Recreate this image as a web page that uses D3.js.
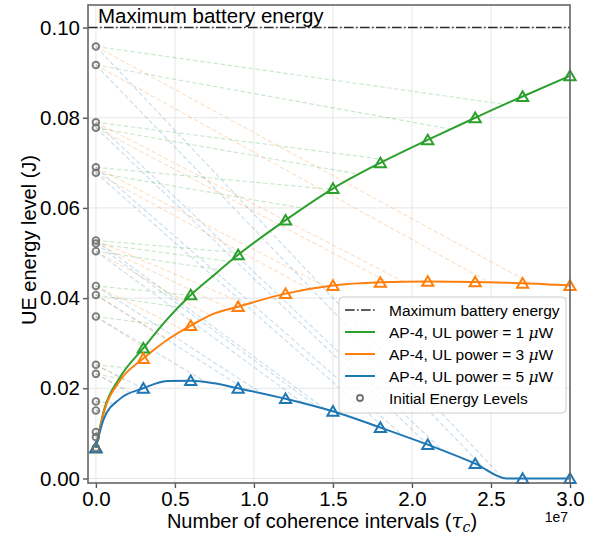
<!DOCTYPE html>
<html>
<head>
<meta charset="utf-8">
<script src="https://cdn.jsdelivr.net/npm/d3@7"></script>
<style>
  body { margin: 0; background: #fff; }
  text { font-family: "Liberation Sans", Arial, sans-serif; }
</style>
</head>
<body>
<div id="chart"></div>
<script>
// time axis in units of 1e7 coherence intervals
const tc = [0, 0.05, 0.15, 0.3, 0.45, 0.6, 0.75, 0.9, 1.2, 1.5, 1.8, 2.1, 2.4, 2.6, 2.7, 3.0];
const markerTc = [0, 0.3, 0.6, 0.9, 1.2, 1.5, 1.8, 2.1, 2.4, 2.7, 3.0];

// average UE energy (J) per UL power
const energy1uW = [0.0068, 0.0150, 0.0223, 0.0289, 0.0353, 0.0407, 0.0452, 0.0496, 0.0573, 0.0643, 0.0700, 0.0751, 0.0800, 0.0832, 0.0847, 0.0893];
const energy3uW = [0.0068, 0.0146, 0.0216, 0.0266, 0.0307, 0.0339, 0.0366, 0.0381, 0.0410, 0.0428, 0.0435, 0.0437, 0.0436, 0.0434, 0.0433, 0.0428];
const energy5uW = [0.0068, 0.0132, 0.0176, 0.0200, 0.0216, 0.0217, 0.0211, 0.0200, 0.0177, 0.0149, 0.0113, 0.0075, 0.0033, 0.0000, 0.0000, 0.0000];

const maxBattery = 0.10;

// initial energy levels of the UEs
const initialLevels = [0.0958, 0.0917, 0.0790, 0.0778, 0.0690, 0.0678, 0.0528, 0.0521, 0.0504, 0.0427, 0.0407, 0.0359, 0.0252, 0.0232, 0.0171, 0.0151, 0.0103, 0.0092, 0.0068];

// end points [tc, energy] of the faint per-UE trajectories
const ends1uW = [[2.58, 0.0830], [2.24, 0.0775], [1.83, 0.0707], [1.66, 0.0675], [1.49, 0.0641], [1.30, 0.0600],
  [0.92, 0.0500], [0.85, 0.0481], [0.78, 0.0463], [0.60, 0.0406], [0.52, 0.0380], [0.42, 0.0340],
  [0.21, 0.0245], [0.17, 0.0220], [0.10, 0.0165], [0.08, 0.0146], [0.035, 0.0100], [0.025, 0.0090]];
const ends3uW = [[2.75, 0.0433], [2.49, 0.0435], [1.95, 0.0436], [1.85, 0.0435], [1.45, 0.0426], [1.35, 0.0420],
  [0.95, 0.0386], [0.85, 0.0375], [0.73, 0.0360], [0.55, 0.0330], [0.45, 0.0310], [0.35, 0.0280],
  [0.20, 0.0215], [0.17, 0.0200], [0.09, 0.0150], [0.07, 0.0135], [0.03, 0.0095], [0.02, 0.0085]];
const ends5uW = [[2.55, 0.0010], [2.45, 0.0025], [2.20, 0.0060], [2.10, 0.0075], [1.95, 0.0093], [1.85, 0.0105],
  [1.45, 0.0154], [1.40, 0.0159], [1.30, 0.0170], [1.05, 0.0189], [0.95, 0.0197], [0.70, 0.0213],
  [0.30, 0.0200], [0.22, 0.0190], [0.10, 0.0168], [0.06, 0.0145], [0.02, 0.0100], [0.015, 0.0090]];

const xTicks = [0, 0.5, 1.0, 1.5, 2.0, 2.5, 3.0];
const yTicks = [0, 0.02, 0.04, 0.06, 0.08, 0.10];

const series = [
  {name: "AP-4, UL power = 1 ", values: energy1uW, ends: ends1uW, color: "#2ca02c"},
  {name: "AP-4, UL power = 3 ", values: energy3uW, ends: ends3uW, color: "#ff7f0e"},
  {name: "AP-4, UL power = 5 ", values: energy5uW, ends: ends5uW, color: "#1f77b4"}
];

const width = 593, height = 536;
const plot = {left: 88, right: 570, top: 5, bottom: 483};

const svg = d3.select("#chart").append("svg")
  .attr("width", width).attr("height", height);

const x = d3.scaleLinear().domain([-0.05, 3.0]).range([plot.left, plot.right]);
const y = d3.scaleLinear().domain([-0.001, 0.105]).range([plot.bottom, plot.top]);

// grid
const grid = svg.append("g").attr("stroke", "#e6e6e6").attr("stroke-width", 1);
grid.selectAll(".gx").data(xTicks).join("line")
  .attr("x1", d => x(d)).attr("x2", d => x(d))
  .attr("y1", plot.top).attr("y2", plot.bottom);
grid.selectAll(".gy").data(yTicks).join("line")
  .attr("x1", plot.left).attr("x2", plot.right)
  .attr("y1", d => y(d)).attr("y2", d => y(d));

// faint per-UE trajectories
series.forEach(s => {
  svg.append("g").selectAll("line")
    .data(s.ends)
    .join("line")
    .attr("x1", x(0)).attr("y1", (d, i) => y(initialLevels[i]))
    .attr("x2", d => x(d[0])).attr("y2", d => y(d[1]))
    .attr("stroke", s.color).attr("stroke-opacity", 0.25)
    .attr("stroke-width", 1.1).attr("stroke-dasharray", "4.5,2.5");
});

// maximum battery energy
svg.append("line")
  .attr("x1", plot.left).attr("x2", plot.right)
  .attr("y1", y(maxBattery)).attr("y2", y(maxBattery))
  .attr("stroke", "#2a2a2a").attr("stroke-width", 1.6)
  .attr("stroke-dasharray", "9.6,2.4,1.6,2.4");

// average curves with triangle markers
const line = d3.line().x((d, i) => x(tc[i])).y(d => y(d)).curve(d3.curveMonotoneX);
const tri = "M0,-5.2L5.6,4.4L-5.6,4.4Z";
series.forEach(s => {
  svg.append("path").datum(s.values)
    .attr("d", line).attr("fill", "none")
    .attr("stroke", s.color).attr("stroke-width", 2);
});
series.forEach(s => {
  svg.append("g").selectAll("path")
    .data(tc.map((t, i) => [t, s.values[i]]).filter(d => markerTc.includes(d[0])))
    .join("path")
    .attr("d", tri)
    .attr("transform", d => `translate(${x(d[0])},${y(d[1])})`)
    .attr("fill", "none").attr("stroke", s.color).attr("stroke-width", 2);
});

// initial energy levels
svg.append("g").selectAll("circle")
  .data(initialLevels)
  .join("circle")
  .attr("cx", x(0)).attr("cy", d => y(d)).attr("r", 3.3)
  .attr("fill", "none").attr("stroke", "#707070").attr("stroke-opacity", 0.9)
  .attr("stroke-width", 1.9);

// text label of the battery line
svg.append("text")
  .attr("x", 98).attr("y", 23)
  .style("font-size", "20.5px")
  .text("Maximum battery energy");

// axes
const xAxis = svg.append("g")
  .attr("transform", `translate(0,${plot.bottom})`)
  .call(d3.axisBottom(x).tickValues(xTicks).tickFormat(d3.format(".1f")).tickSize(5).tickPadding(3));
const yAxis = svg.append("g")
  .attr("transform", `translate(${plot.left},0)`)
  .call(d3.axisLeft(y).tickValues(yTicks).tickFormat(d3.format(".2f")).tickSize(5).tickPadding(3));
[xAxis, yAxis].forEach(a => {
  a.select(".domain").remove();
  a.selectAll(".tick line").attr("stroke", "#555").attr("stroke-width", 1.4);
  a.selectAll(".tick text").attr("fill", "#000")
    .style("font-size", "20.5px").style("font-family", "'Liberation Sans', Arial, sans-serif");
});

// spines
svg.append("rect")
  .attr("x", plot.left).attr("y", plot.top)
  .attr("width", plot.right - plot.left).attr("height", plot.bottom - plot.top)
  .attr("fill", "none").attr("stroke", "#666").attr("stroke-width", 1.6);

// axis titles
const xLabel = svg.append("text")
  .attr("x", 322).attr("y", 528)
  .attr("text-anchor", "middle")
  .style("font-size", "20px");
xLabel.append("tspan").text("Number of coherence intervals (");
xLabel.append("tspan").style("font-style", "italic").style("font-family", "'DejaVu Serif', serif").text("\u03c4");
xLabel.append("tspan").attr("dy", 4).style("font-size", "14px").style("font-style", "italic").style("font-family", "'DejaVu Serif', serif").text("c");
xLabel.append("tspan").attr("dy", -4).text(")");

svg.append("text")
  .attr("transform", "translate(36,240) rotate(-90)")
  .attr("text-anchor", "middle")
  .style("font-size", "20px")
  .text("UE energy level (J)");

svg.append("text")
  .attr("x", 568).attr("y", 522)
  .attr("text-anchor", "end")
  .style("font-size", "14px")
  .text("1e7");

// legend
const legend = svg.append("g");
legend.append("rect")
  .attr("x", 339).attr("y", 297).attr("width", 227).attr("height", 116)
  .attr("rx", 4).attr("fill", "#fff").attr("fill-opacity", 0.8)
  .attr("stroke", "#ccc").attr("stroke-width", 1);
const rowY = [310, 332, 354, 376, 398];
legend.append("line")
  .attr("x1", 345).attr("x2", 375).attr("y1", rowY[0]).attr("y2", rowY[0])
  .attr("stroke", "#2a2a2a").attr("stroke-width", 1.6).attr("stroke-dasharray", "9.6,2.4,1.6,2.4");
series.forEach((s, i) => {
  legend.append("line")
    .attr("x1", 345).attr("x2", 375).attr("y1", rowY[i + 1]).attr("y2", rowY[i + 1])
    .attr("stroke", s.color).attr("stroke-width", 2);
});
legend.append("circle")
  .attr("cx", 360).attr("cy", rowY[4]).attr("r", 3)
  .attr("fill", "none").attr("stroke", "#707070").attr("stroke-width", 1.8);
const legendText = legend.selectAll("text")
  .data(["Maximum battery energy", ...series.map(s => s.name), "Initial Energy Levels"])
  .join("text")
  .attr("x", 389).attr("y", (d, i) => rowY[i] + 5.5)
  .style("font-size", "15.5px");
legendText.filter((d, i) => i >= 1 && i <= 3).each(function(d) {
  const t = d3.select(this).text(null);
  t.append("tspan").text(d);
  t.append("tspan").style("font-style", "italic").style("font-family", "'DejaVu Serif', serif").text("\u03bc");
  t.append("tspan").text("W");
});
legendText.filter((d, i) => i === 0 || i === 4).text(d => d);
</script>
</body>
</html>
